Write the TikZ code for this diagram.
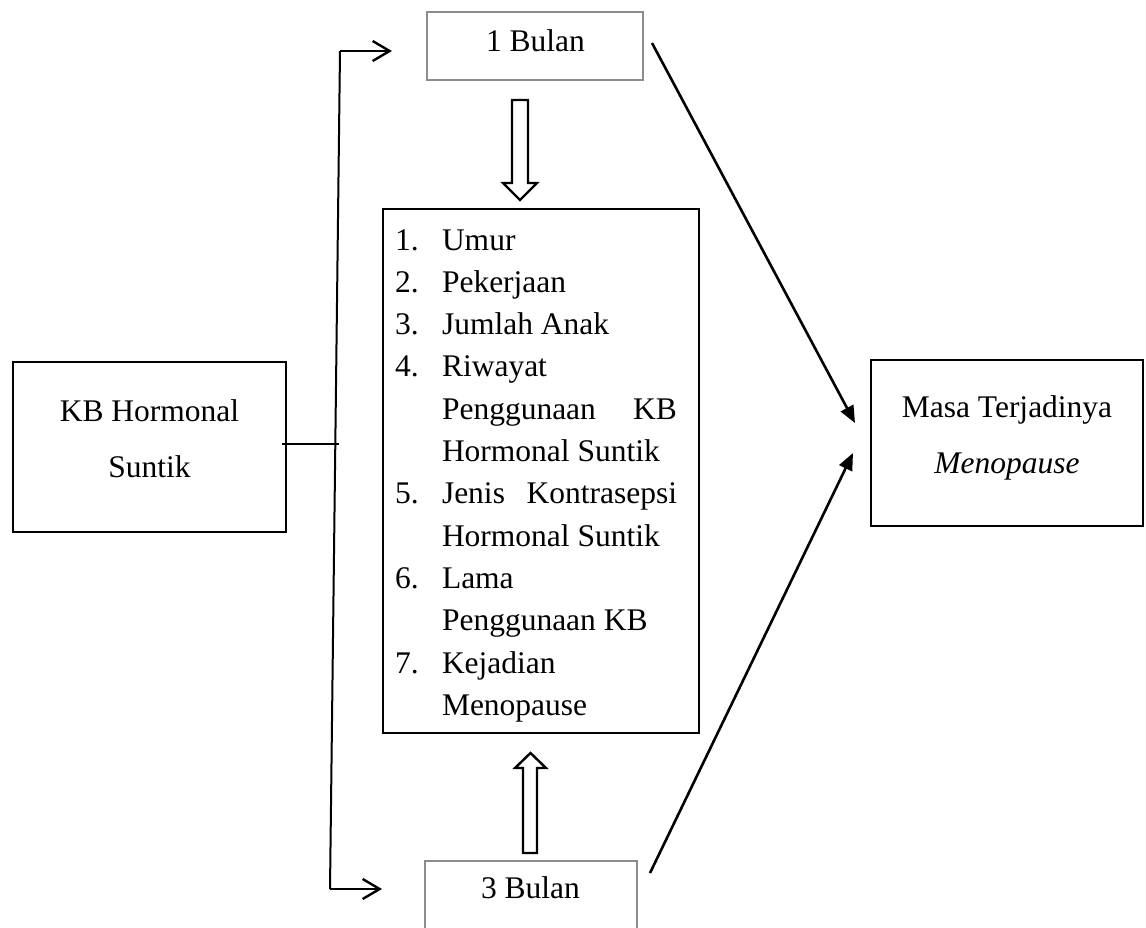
\documentclass[tikz,border=0pt]{standalone}
\usepackage{fontspec}
\setmainfont{Liberation Serif}
\usetikzlibrary{arrows.meta}
\begin{document}
\begin{tikzpicture}[x=1pt,y=-1pt,
  every node/.style={font=\fontsize{31.5}{42.3}\selectfont, inner sep=0pt, outer sep=0pt},
  mainbox/.style={draw=black, line width=2.6pt, rectangle},
  graybox/.style={draw=black!45, line width=1.4pt, rectangle},
  txt/.style={anchor=base},
  txtl/.style={anchor=base west},
  txtr/.style={anchor=base east},
  openarrow/.style={line width=2.4pt, -{Straight Barb[length=17pt,width=20pt,line width=2.4pt]}},
  diagarrow/.style={line width=2.6pt, -{Triangle[length=17pt,width=14pt]}},
  blockarrow/.style={draw=black, line width=2.4pt, fill=white, line join=miter}]
\useasboundingbox (0,0) rectangle (1146,927);
\clip (0,0) rectangle (1146,927);

% boxes
\node[mainbox, minimum width=273pt, minimum height=170pt] (kb) at (149.5,447) {};
\node[txt] (kb1) at (149.5,421) {KB Hormonal};
\node[txt] (kb2) at (149.5,477) {Suntik};

\node[mainbox, minimum width=272pt, minimum height=166pt] (mt) at (1007,443) {};
\node[txt] (mt1) at (1007,417) {Masa Terjadinya};
\node[txt] (mt2) at (1007,473) {\itshape Menopause};

\node[graybox, minimum width=216pt, minimum height=68pt] (b1) at (535,46) {};
\node[txt] (b1t) at (535.5,51) {1 Bulan};

\node[graybox, minimum width=212pt, minimum height=80pt] (b3) at (531,901) {};
\node[txt] (b3t) at (530.5,898) {3 Bulan};

\node[mainbox, minimum width=316pt, minimum height=524pt] (fac) at (541,471) {};

% list
\node[txtl] (n1) at (395,250) {1.};
\node[txtl] (l1) at (442,250) {Umur};
\node[txtl] (n2) at (395,292.3) {2.};
\node[txtl] (l2) at (442,292.3) {Pekerjaan};
\node[txtl] (n3) at (395,334.6) {3.};
\node[txtl] (l3) at (442,334.6) {Jumlah Anak};
\node[txtl] (n4) at (395,376.9) {4.};
\node[txtl] (l4) at (442,376.9) {Riwayat};
\node[txtl] (l5) at (442,419.2) {Penggunaan};
\node[txtr] (l5b) at (677,419.2) {KB};
\node[txtl] (l6) at (442,461.5) {Hormonal Suntik};
\node[txtl] (n5) at (395,503.8) {5.};
\node[txtl] (l7) at (442,503.8) {Jenis};
\node[txtr] (l7b) at (677,503.8) {Kontrasepsi};
\node[txtl] (l8) at (442,546.1) {Hormonal Suntik};
\node[txtl] (n6) at (395,588.4) {6.};
\node[txtl] (l9) at (442,588.4) {Lama};
\node[txtl] (l10) at (442,630.7) {Penggunaan KB};
\node[txtl] (n7) at (395,673) {7.};
\node[txtl] (l11) at (442,673) {Kejadian};
\node[txtl] (l12) at (442,715.3) {Menopause};

% connectors
\coordinate (vtop) at (340,51);
\coordinate (vbot) at (330,889);
\coordinate (hm) at (339,444);
\draw[line width=2pt] (vtop) -- (vbot);
\draw[line width=1.2pt] (282,444) -- (hm);
\draw[openarrow, shorten >=35pt] (vtop) -- (vtop -| b1.west);
\draw[openarrow, shorten >=43pt] (vbot) -- (vbot -| b3.west);

\coordinate (s1) at (652,43);
\coordinate (t1) at (855,423);
\coordinate (s2) at (650,873);
\coordinate (t2) at (853,453);
\draw[diagarrow] (s1) -- (t1);
\draw[diagarrow] (s2) -- (t2);

% block arrows
\draw[blockarrow] (512,100) -- (528,100) -- (528,183) -- (537,183) -- (520,200) -- (503,183) -- (512,183) -- cycle;
\draw[blockarrow] (523,853) -- (537,853) -- (537,768) -- (546,768) -- (530.5,753) -- (515,768) -- (523,768) -- cycle;
\end{tikzpicture}
\end{document}
